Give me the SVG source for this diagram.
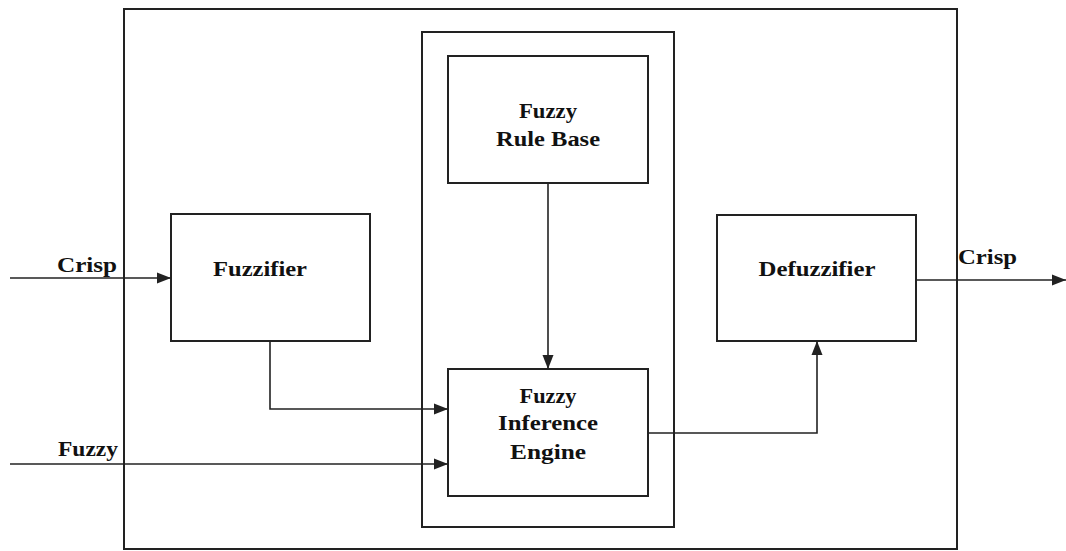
<svg xmlns="http://www.w3.org/2000/svg" width="1066" height="551" viewBox="0 0 1066 551">
<style>
.box{fill:#fff;stroke:#222;stroke-width:2}
.frame{fill:none;stroke:#222;stroke-width:2}
.con{fill:none;stroke:#222;stroke-width:1.6}
.t{font-family:"Liberation Serif","Times New Roman",serif;font-weight:bold;font-size:22px;fill:#111}
.m{text-anchor:middle}
</style>
<defs>
<marker id="ah" viewBox="0 0 14 12" refX="14" refY="6" markerWidth="14" markerHeight="12" markerUnits="userSpaceOnUse" orient="auto">
<path d="M0,0.5 L14,6 L0,11.5 Z" fill="#222"/>
</marker>
</defs>
<rect width="1066" height="551" fill="#fff"/>
<g id="outer"><rect class="frame" x="124" y="9" width="833" height="540"/></g>
<g id="inner"><rect class="frame" x="422" y="32" width="252" height="495"/></g>
<g id="fuzzifier"><rect class="box" x="171" y="214" width="199" height="127"/>
<text class="t m" x="260" y="276" textLength="94" lengthAdjust="spacingAndGlyphs">Fuzzifier</text></g>
<g id="rulebase"><rect class="box" x="448" y="56" width="200" height="127"/>
<text class="t m" x="548" y="118" textLength="58" lengthAdjust="spacingAndGlyphs">Fuzzy</text><text class="t m" x="548" y="146" textLength="104" lengthAdjust="spacingAndGlyphs">Rule Base</text></g>
<g id="inference"><rect class="box" x="448" y="369" width="200" height="127"/>
<text class="t m" x="548" y="403" textLength="57" lengthAdjust="spacingAndGlyphs">Fuzzy</text><text class="t m" x="548" y="430" textLength="100" lengthAdjust="spacingAndGlyphs">Inference</text><text class="t m" x="548" y="459" textLength="76" lengthAdjust="spacingAndGlyphs">Engine</text></g>
<g id="defuzzifier"><rect class="box" x="717" y="215" width="199" height="126"/>
<text class="t m" x="817" y="276" textLength="117" lengthAdjust="spacingAndGlyphs">Defuzzifier</text></g>
<g id="labels">
<text class="t" x="57" y="272" textLength="60" lengthAdjust="spacingAndGlyphs">Crisp</text>
<text class="t" x="58" y="456" textLength="60" lengthAdjust="spacingAndGlyphs">Fuzzy</text>
<text class="t" x="958" y="264" textLength="59" lengthAdjust="spacingAndGlyphs">Crisp</text>
</g>
<g id="connectors">
<path class="con" d="M10,278 H171" marker-end="url(#ah)"/>
<path class="con" d="M10,464 H448" marker-end="url(#ah)"/>
<path class="con" d="M270,341 V409 H448" marker-end="url(#ah)"/>
<path class="con" d="M548,183 V369" marker-end="url(#ah)"/>
<path class="con" d="M648,433 H817 V341" marker-end="url(#ah)"/>
<path class="con" d="M916,280 H1066" marker-end="url(#ah)"/>
</g>
</svg>
